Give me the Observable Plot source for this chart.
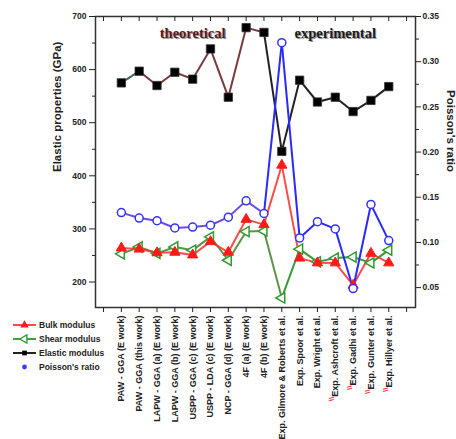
<!DOCTYPE html>
<html><head><meta charset="utf-8">
<script src="https://cdn.jsdelivr.net/npm/d3@7"></script>
<script src="https://cdn.jsdelivr.net/npm/@observablehq/plot@0.6"></script>
<style>body{margin:0;background:#fff}</style>
</head><body><div id="chart"></div>
<script>
const categories = [
  "PAW - GGA (E work)", "PAW - GGA (this work)", "LAPW - GGA (a) (E work)", "LAPW - GGA (b) (E work)",
  "USPP - GGA (c) (E work)", "USPP - LDA (c) (E work)", "NCP - GGA (d) (E work)", "4F (a) (E work)",
  "4F (b) (E work)", "Exp. Gilmore & Roberts et al.", "Exp. Spoor et al.", "Exp. Wright et al.",
  "Exp. Ashcroft et al.", "Exp. Gadhi et al.", "Exp. Gunter et al.", "Exp. Hillyer et al."
];
const groups = ["theoretical","theoretical","theoretical","theoretical","theoretical","theoretical","theoretical","theoretical","theoretical",
  "experimental","experimental","experimental","experimental","experimental","experimental","experimental"];
const bulkModulus    = [264, 262, 255, 256, 251, 276, 256, 318, 308, 420, 245, 236, 236, 194, 254, 236];
const shearModulus   = [253, 266, 254, 266, 260, 285, 241, 295, 296, 170, 262, 238, 245, 247, 236, 260];
const elasticModulus = [575, 597, 570, 595, 582, 639, 548, 679, 670, 446, 580, 539, 548, 521, 542, 568];
const poissonRatio   = [0.133, 0.127, 0.124, 0.116, 0.117, 0.119, 0.128, 0.146, 0.132, 0.321, 0.105, 0.123, 0.115, 0.049, 0.142, 0.102];
const leftTicks = [200, 300, 400, 500, 600, 700];
const leftMinorTicks = [250, 350, 450, 550, 650];
const rightTicks = [0.05, 0.10, 0.15, 0.20, 0.25, 0.30, 0.35];
const rightMinorTicks = [0.075, 0.125, 0.175, 0.225, 0.275, 0.325];
const groupLabels = ["theoretical", "experimental"];
const groupColors = ["#5a1818", "#1c1c1c"];
const legendLabels = ["Bulk modulus", "Shear modulus", "Elastic modulus", "Poisson's ratio"];
const refMarked = ["Exp. Ashcroft et al.", "Exp. Gadhi et al.", "Exp. Gunter et al.", "Exp. Hillyer et al."];

// map the right (Poisson) axis into the left axis value space
const yDomain = [152, 700];
const pDomain = [0.028, 0.35];
const pToY = d3.scaleLinear().domain(pDomain).range(yDomain);

const rows = categories.map((c, i) => ({
  i: i + 1, c, g: groups[i],
  bulk: bulkModulus[i], shear: shearModulus[i], elastic: elasticModulus[i],
  poisson: pToY(poissonRatio[i])
}));
function segs(key, colorFn) {
  return rows.slice(1).map((d, k) => ({x1: rows[k].i, y1: rows[k][key], x2: d.i, y2: d[key], color: colorFn(k)}));
}
const elasticSegs = segs("elastic", k => k === 0 ? "#3f6b50" : k <= 7 ? "#7a3a3a" : "#222");
const poissonSegs = segs("poisson", k => k <= 7 ? "#6d4ae6" : "#2a2aff");
const bulkSegs = segs("bulk", k => "#ff2b2b");
const shearSegs = segs("shear", k => k <= 8 ? "#5b9446" : "#3a9a3a");

const leftTri = {
  draw(ctx, size) {
    const s = Math.sqrt(4 * size / Math.sqrt(3)), h = s * Math.sqrt(3) / 2;
    ctx.moveTo(-2 * h / 3, 0); ctx.lineTo(h / 3, -s / 2); ctx.lineTo(h / 3, s / 2); ctx.closePath();
  }
};

const groupPos = groupLabels.map((g, k) => ({g, color: groupColors[k], x: d3.mean(rows.filter(r => r.g === g), r => r.i)}));

const chart = Plot.plot({
  width: 456, height: 439,
  marginLeft: 95, marginRight: 41, marginTop: 16, marginBottom: 132,
  x: {domain: [-0.45, 17.5]},
  y: {domain: yDomain},
  style: {fontFamily: "'Liberation Sans', Arial, sans-serif", fontWeight: "bold", color: "#222", background: "#fff"},
  marks: [
    Plot.link(shearSegs, {x1: "x1", y1: "y1", x2: "x2", y2: "y2", stroke: "color", strokeWidth: 2}),
    Plot.link(bulkSegs, {x1: "x1", y1: "y1", x2: "x2", y2: "y2", stroke: "color", strokeWidth: 2, strokeOpacity: 0.85}),
    Plot.link(elasticSegs, {x1: "x1", y1: "y1", x2: "x2", y2: "y2", stroke: "color", strokeWidth: 2}),
    Plot.link(poissonSegs, {x1: "x1", y1: "y1", x2: "x2", y2: "y2", stroke: "color", strokeWidth: 2}),
    Plot.dot(rows, {x: "i", y: "shear", symbol: leftTri, r: 3.8, stroke: "#2f9a2f", fill: "white", strokeWidth: 1.5}),
    Plot.dot(rows, {x: "i", y: "bulk", symbol: "triangle", r: 3.8, fill: "#ff1a1a", stroke: "#ff1a1a", strokeWidth: 1}),
    Plot.dot(rows, {x: "i", y: "poisson", r: 4, stroke: "#3333ff", fill: "white", strokeWidth: 1.5}),
    Plot.dot(rows, {x: "i", y: "elastic", symbol: "square", r: 4.7, fill: "#000", stroke: "#333", strokeWidth: 0.8}),
    Plot.frame({stroke: "#333", strokeWidth: 1.5}),
    Plot.axisY(leftTicks, {anchor: "left", tickSize: 6, tickPadding: 3, fontSize: 8.5, label: null, tickFormat: d3.format("d")}),
    Plot.axisY(leftMinorTicks, {anchor: "left", tickSize: 3, tickFormat: () => "", label: null}),
    Plot.axisY(rightTicks.map(pToY), {anchor: "right", tickSize: 5, tickPadding: 2, fontSize: 8.5, label: null,
      tickFormat: v => d3.format(".2f")(pToY.invert(v))}),
    Plot.axisY(rightMinorTicks.map(pToY), {anchor: "right", tickSize: 3, tickFormat: () => "", label: null}),
    Plot.axisX(d3.range(0, 18), {anchor: "bottom", tickSize: 5, tickPadding: 3, tickRotate: -90, fontSize: 9, label: null,
      tickFormat: i => categories[i - 1] ?? ""}),
    Plot.axisX(d3.range(0, 18), {anchor: "top", tickSize: -4, tickFormat: () => "", label: null}),
    Plot.text(["Elastic properties (GPa)"], {frameAnchor: "left", rotate: -90, dx: -38, dy: 10, fontSize: 11.5, fontWeight: "bold", fill: "#222"}),
    Plot.text(["Poisson's ratio"], {frameAnchor: "right", rotate: 90, dx: 35, dy: 10, fontSize: 11.5, fontWeight: "bold", fill: "#222"}),
    Plot.text(groupPos, {x: "x", text: "g", frameAnchor: "top", lineAnchor: "middle", dx: 1.2, dy: 18.2, fontSize: 14.5, fontWeight: "bold",
      fontFamily: "'Liberation Serif', 'Times New Roman', serif", fill: "#9a9a9a"}),
    Plot.text(groupPos, {x: "x", text: "g", frameAnchor: "top", lineAnchor: "middle", dy: 17, fontSize: 14.5, fontWeight: "bold",
      fontFamily: "'Liberation Serif', 'Times New Roman', serif", fill: "color"})
  ]
});
document.getElementById("chart").appendChild(chart);

const svg = d3.select(chart);

// red superscript reference markers
svg.selectAll("g[aria-label='x-axis tick label'] text").each(function() {
  if (refMarked.includes(this.textContent)) {
    const t = document.createElementNS("http://www.w3.org/2000/svg", "tspan");
    t.textContent = "\\\\";
    t.setAttribute("fill", "#ff3a3a");
    t.setAttribute("font-size", "8");
    t.setAttribute("baseline-shift", "super");
    const rest = document.createElementNS("http://www.w3.org/2000/svg", "tspan");
    rest.textContent = this.textContent;
    this.textContent = "";
    this.appendChild(t);
    this.appendChild(rest);
  }
});

// legend
const lg = svg.append("g").attr("font-size", 8.5).attr("font-weight", "bold").attr("text-anchor", "start")
  .attr("font-family", "'Liberation Sans', Arial, sans-serif").attr("fill", "#222");
const legendStyle = [
  {stroke: "#ff4a4a", sym: d3.symbolTriangle, size: 30, fill: "#ff1a1a", mstroke: "none", line: true},
  {stroke: "#3aa83a", sym: leftTri, size: 30, fill: "white", mstroke: "#2f9a2f", line: true},
  {stroke: "#222", sym: d3.symbolSquare, size: 22, fill: "#000", mstroke: "none", line: true},
  {stroke: "none", sym: d3.symbolCircle, size: 18, fill: "#3a3aff", mstroke: "none", line: false}
];
legendLabels.forEach((lab, k) => {
  const st = legendStyle[k];
  const y = 325 + k * 14;
  if (st.line) lg.append("line").attr("x1", 13).attr("x2", 36).attr("y1", y).attr("y2", y).attr("stroke", st.stroke).attr("stroke-width", 2);
  lg.append("path").attr("d", d3.symbol(st.sym, st.size)()).attr("transform", `translate(24.5,${y})`)
    .attr("fill", st.fill).attr("stroke", st.mstroke).attr("stroke-width", 1.3);
  lg.append("text").attr("x", 39).attr("y", y + 3).attr("text-anchor", "start").text(lab);
});
</script>
</body></html>
